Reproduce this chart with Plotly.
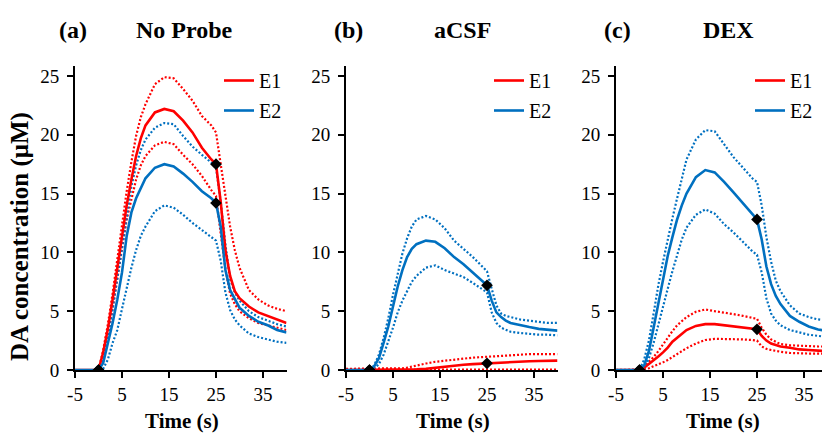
import plotly.graph_objects as go

# Time base (s) shared by all traces
T = [-5, 0, 1, 2, 3, 4, 5, 6, 7, 8, 9, 10, 12, 14, 16, 18, 20, 22, 24, 25,
     26, 27, 28, 29, 30, 32, 34, 36, 38, 40]

# (a) No Probe — mean and mean ± SEM, DA concentration in µM
NP_E1 = [0, 0, 1.5, 3.5, 6.0, 8.8, 11.3, 14.0, 16.2, 18.2, 19.7, 20.8, 21.9, 22.2, 22.0,
         21.2, 20.2, 18.9, 17.9, 17.5, 14.3, 10.2, 8.0, 6.7, 6.1, 5.4, 4.9, 4.6, 4.3, 4.0]
NP_E1_HI = [0, 0, 1.7, 3.9, 6.5, 9.5, 12.3, 15.2, 17.7, 19.9, 21.5, 22.6, 24.3, 24.9, 24.8,
            23.9, 22.9, 21.6, 20.8, 20.2, 17.5, 14.7, 12.2, 10.2, 8.7, 6.8, 6.0, 5.5, 5.2, 5.0]
NP_E1_LO = [0, 0, 1.2, 2.9, 5.2, 7.9, 10.3, 12.8, 14.6, 16.2, 17.4, 18.2, 19.1, 19.4, 19.2,
            18.3, 17.5, 16.5, 15.3, 14.8, 11.6, 8.6, 6.5, 5.6, 5.0, 4.4, 4.0, 3.8, 3.6, 3.4]
NP_E2 = [0, 0, 0.6, 2.2, 4.0, 6.0, 8.3, 11.4, 13.4, 14.6, 15.5, 16.3, 17.2, 17.5, 17.3,
         16.7, 16.0, 15.2, 14.6, 14.2, 12.2, 8.5, 6.8, 6.0, 5.3, 4.6, 4.1, 3.8, 3.4, 3.2]
NP_E2_HI = [0, 0, 0.9, 2.8, 5.2, 7.8, 10.5, 13.3, 15.6, 17.4, 18.7, 19.6, 20.6, 21.0, 20.9,
            19.9, 19.0, 18.3, 17.6, 17.3, 14.3, 10.7, 7.7, 6.6, 5.9, 5.0, 4.5, 4.2, 3.9, 3.7]
NP_E2_LO = [0, 0, 0.1, 0.9, 2.3, 3.4, 5.2, 7.0, 8.7, 10.2, 11.4, 12.2, 13.5, 14.0, 13.8,
            13.2, 12.5, 11.9, 11.3, 11.0, 9.3, 6.6, 5.1, 4.3, 3.8, 3.1, 2.8, 2.6, 2.4, 2.3]

# (b) aCSF
AC_E1 = [0, 0, 0, 0, 0, 0, 0, 0, 0, 0.02, 0.03, 0.05, 0.1, 0.2, 0.3,
         0.38, 0.45, 0.5, 0.55, 0.57, 0.6, 0.62, 0.65, 0.67, 0.7, 0.72, 0.75, 0.77, 0.8, 0.8]
AC_E1_HI = [0.1, 0.1, 0.1, 0.1, 0.1, 0.1, 0.1, 0.1, 0.15, 0.2, 0.3, 0.4, 0.55, 0.7, 0.8,
            0.9, 1.0, 1.05, 1.1, 1.1, 1.15, 1.17, 1.2, 1.22, 1.25, 1.3, 1.35, 1.35, 1.35, 1.35]
AC_E1_LO = [0.03, 0.03, 0.03, 0.03, 0.03, 0.03, 0.03, 0.03, 0.03, 0.03, 0.03, 0.03, 0.03, 0.03, 0.03,
            0.03, 0.03, 0.03, 0.03, 0.03, 0.03, 0.03, 0.03, 0.03, 0.03, 0.03, 0.03, 0.03, 0.03, 0.03]
AC_E2 = [0, 0, 0.3, 1.0, 2.3, 3.7, 5.4, 7.1, 8.5, 9.6, 10.3, 10.7, 11.0, 10.9, 10.35,
         9.6, 9.0, 8.3, 7.6, 7.2, 5.9, 4.9, 4.5, 4.2, 4.0, 3.8, 3.65, 3.5, 3.45, 3.35]
AC_E2_HI = [0, 0, 0.4, 1.3, 2.7, 4.4, 6.4, 8.3, 9.9, 11.2, 12.2, 12.8, 13.1, 12.8, 12.05,
            11.0, 10.3, 9.6, 8.8, 8.4, 6.9, 5.5, 4.8, 4.6, 4.5, 4.3, 4.2, 4.1, 4.0, 4.0]
AC_E2_LO = [0, 0, 0.1, 0.5, 1.3, 2.4, 3.6, 4.9, 5.9, 6.7, 7.5, 8.0, 8.7, 8.9, 8.5,
            8.2, 7.9, 7.4, 6.9, 6.6, 4.9, 4.0, 3.6, 3.4, 3.25, 3.15, 3.05, 3.0, 3.0, 2.95]

# (c) DEX
DX_E1 = [0, 0, 0.2, 0.5, 0.8, 1.15, 1.5, 1.9, 2.4, 2.75, 3.1, 3.4, 3.75, 3.9, 3.9,
         3.8, 3.75, 3.65, 3.55, 3.46, 2.9, 2.5, 2.25, 2.1, 2.0, 1.9, 1.75, 1.7, 1.65, 1.6]
DX_E1_HI = [0, 0, 0.3, 0.7, 1.1, 1.6, 2.2, 2.8, 3.3, 3.8, 4.15, 4.5, 4.95, 5.15, 5.0,
            4.9, 4.75, 4.6, 4.45, 4.35, 3.6, 3.0, 2.6, 2.4, 2.2, 2.1, 2.05, 2.0, 2.0, 2.0]
DX_E1_LO = [0, 0, 0.05, 0.15, 0.3, 0.45, 0.65, 0.85, 1.1, 1.35, 1.6, 1.85, 2.25, 2.55, 2.65,
            2.65, 2.65, 2.6, 2.55, 2.5, 2.0, 1.8, 1.7, 1.6, 1.55, 1.45, 1.4, 1.4, 1.4, 1.4]
DX_E2 = [0, 0, 0.4, 1.6, 3.6, 5.7, 7.6, 9.7, 11.3, 12.8, 14.0, 15.0, 16.4, 17.0, 16.8,
         16.0, 15.1, 14.2, 13.3, 12.8, 11.1, 8.8, 7.3, 6.3, 5.6, 4.6, 4.1, 3.7, 3.45, 3.3]
DX_E2_HI = [0, 0, 0.9, 2.5, 4.8, 7.2, 9.2, 11.2, 12.9, 14.6, 16.3, 17.9, 19.6, 20.4, 20.3,
            19.2, 18.1, 17.2, 16.3, 16.0, 14.0, 11.3, 9.2, 7.6, 6.7, 5.5, 4.8, 4.5, 4.3, 4.2]
DX_E2_LO = [0, 0, 0.1, 1.0, 2.3, 3.9, 5.4, 6.9, 8.4, 9.8, 11.1, 12.1, 13.2, 13.65, 13.3,
            12.4, 11.7, 10.9, 10.1, 9.8, 8.3, 6.1, 4.8, 4.2, 3.8, 3.4, 3.2, 3.0, 2.9, 2.8]

PANELS = [
    ("(a)", "No Probe", NP_E1, NP_E1_HI, NP_E1_LO, NP_E2, NP_E2_HI, NP_E2_LO),
    ("(b)", "aCSF", AC_E1, AC_E1_HI, AC_E1_LO, AC_E2, AC_E2_HI, AC_E2_LO),
    ("(c)", "DEX", DX_E1, DX_E1_HI, DX_E1_LO, DX_E2, DX_E2_HI, DX_E2_LO),
]
X_TICKS = [-5, 5, 15, 25, 35]
X_TICK_TEXT = ["-5", "5", "15", "25", "35"]
Y_TICKS = [0, 5, 10, 15, 20, 25]
MARK_TIMES = [0, 25]

RED = "#FF0000"
BLUE = "#0070C0"
FONT = "Liberation Serif"
W, H = 822, 433

# plot-area geometry in pixels
PX_PER_S = 4.7
X0_PX = [75, 346, 616]
Y_BOT, Y_TOP = 370, 66
Y_MAX = 25.85
LEGEND_PX = [(219, 61), (489, 61), (750, 61)]
TITLE_TAG_PX = [73, 348, 617]
TITLE_NAME_PX = [184, 462, 728]


def px_x(p):
    return p / W


def px_y(p):
    return 1 - p / H


fig = go.Figure()
for i, (tag, name, e1, e1hi, e1lo, e2, e2hi, e2lo) in enumerate(PANELS):
    sfx = "" if i == 0 else str(i + 1)
    xa, ya, lg = "x" + sfx, "y" + sfx, "legend" + sfx
    for series, color in ((e1hi, RED), (e1lo, RED), (e2hi, BLUE), (e2lo, BLUE)):
        fig.add_trace(go.Scatter(x=T, y=series, mode="lines", xaxis=xa, yaxis=ya,
                                 line=dict(color=color, width=2.2, dash="2px,2px"),
                                 showlegend=False, hoverinfo="skip"))
    fig.add_trace(go.Scatter(x=T, y=e1, mode="lines", name="E1", xaxis=xa, yaxis=ya,
                             line=dict(color=RED, width=2.6), legend=lg, legendgroup="e1" + sfx))
    fig.add_trace(go.Scatter(x=T, y=e2, mode="lines", name="E2", xaxis=xa, yaxis=ya,
                             line=dict(color=BLUE, width=2.6), legend=lg, legendgroup="e2" + sfx))
    # stimulation start / end markers on the mean traces
    mx, my = [], []
    for s in (e1, e2):
        for t in MARK_TIMES:
            mx.append(t)
            my.append(s[T.index(t)])
    fig.add_trace(go.Scatter(x=mx, y=my, mode="markers", xaxis=xa, yaxis=ya, showlegend=False,
                             marker=dict(symbol="diamond", size=9, color="black")))

    x_end = min(X0_PX[i] + 45 * PX_PER_S, W)
    x_max = -5 + (x_end - X0_PX[i]) / PX_PER_S
    axis_common = dict(showline=True, linecolor="black", linewidth=2, ticks="outside",
                       ticklen=6, tickwidth=2, tickcolor="black", showgrid=False,
                       zeroline=False, automargin=False,
                       tickfont=dict(family=FONT, size=19, color="black"))
    fig.layout["xaxis" + sfx] = dict(domain=[px_x(X0_PX[i]), px_x(x_end)], range=[-5, x_max],
                                     tickvals=X_TICKS, ticktext=X_TICK_TEXT, anchor=ya,
                                     **axis_common)
    fig.layout["yaxis" + sfx] = dict(domain=[px_y(Y_BOT), px_y(Y_TOP)],
                                     range=[0, Y_MAX], tickvals=Y_TICKS, anchor=xa,
                                     ticklabelstandoff=4, **axis_common)
    lx, ly = LEGEND_PX[i]
    fig.layout[lg] = dict(x=px_x(lx), y=px_y(ly), xanchor="left", yanchor="top",
                          bgcolor="rgba(0,0,0,0)", tracegroupgap=1,
                          font=dict(family=FONT, size=20, color="black"))

    # panel headings and x-axis title
    fig.add_annotation(text="<b>" + tag + "</b>", x=px_x(TITLE_TAG_PX[i]), y=px_y(30),
                       xref="paper", yref="paper", showarrow=False,
                       xanchor="center", yanchor="middle",
                       font=dict(family=FONT, size=24, color="black"))
    fig.add_annotation(text="<b>" + name + "</b>", x=px_x(TITLE_NAME_PX[i]), y=px_y(30),
                       xref="paper", yref="paper", showarrow=False,
                       xanchor="center", yanchor="middle",
                       font=dict(family=FONT, size=24, color="black"))
    fig.add_annotation(text="<b>Time (s)</b>", x=px_x(X0_PX[i] + 107), y=px_y(421),
                       xref="paper", yref="paper", showarrow=False, xanchor="center",
                       yanchor="middle", font=dict(family=FONT, size=21, color="black"))

fig.add_annotation(text="<b>DA concentration (μM)</b>", x=px_x(20), y=px_y(237),
                   xref="paper", yref="paper", showarrow=False, textangle=-90,
                   xanchor="center", yanchor="middle",
                   font=dict(family=FONT, size=25, color="black"))

fig.update_layout(width=W, height=H, margin=dict(l=0, r=0, t=0, b=0),
                  paper_bgcolor="white", plot_bgcolor="white", template="none")
fig.write_html("out.html")
